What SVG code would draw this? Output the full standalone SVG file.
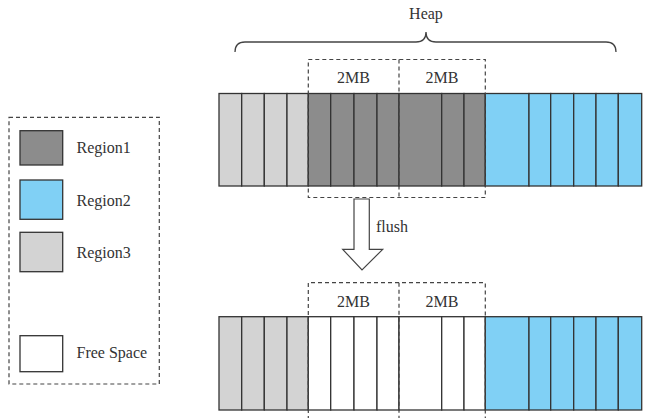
<svg xmlns="http://www.w3.org/2000/svg" width="650" height="418" viewBox="0 0 650 418">
<style>
.t{font-family:"Liberation Serif","Times New Roman",serif;font-size:16px;fill:#333}
.c{stroke:#333;stroke-width:1.3}
.r1{fill:#8c8c8c}.r2{fill:#80d0f5}.r3{fill:#d3d3d3}.fs{fill:#fff}
.d{fill:none;stroke:#444;stroke-width:1.2;stroke-dasharray:4 3}
</style>
<rect width="650" height="418" fill="#fff"/>
<g id="heap-label">
<path d="M235,52 Q235,42 245,42 L416,42 Q426,42 426,32 Q426,42 436,42 L606,42 Q616,42 616,52" fill="none" stroke="#444" stroke-width="1.3"/>
<text class="t" x="426" y="19" text-anchor="middle">Heap</text>
</g>
<g id="heap-before">
<rect class="c r3" x="219" y="93.5" width="22.7" height="92.5"/>
<rect class="c r3" x="241.7" y="93.5" width="22.6" height="92.5"/>
<rect class="c r3" x="264.3" y="93.5" width="22.7" height="92.5"/>
<rect class="c r3" x="287" y="93.5" width="21.3" height="92.5"/>
<rect class="c r1" x="308.3" y="93.5" width="22.4" height="92.5"/>
<rect class="c r1" x="330.7" y="93.5" width="23.3" height="92.5"/>
<rect class="c r1" x="354" y="93.5" width="23" height="92.5"/>
<rect class="c r1" x="377" y="93.5" width="22" height="92.5"/>
<rect class="c r1" x="399" y="93.5" width="42.7" height="92.5"/>
<rect class="c r1" x="441.7" y="93.5" width="22.3" height="92.5"/>
<rect class="c r1" x="464" y="93.5" width="21.3" height="92.5"/>
<rect class="c r2" x="485.3" y="93.5" width="43.7" height="92.5"/>
<rect class="c r2" x="529" y="93.5" width="21.7" height="92.5"/>
<rect class="c r2" x="550.7" y="93.5" width="23" height="92.5"/>
<rect class="c r2" x="573.7" y="93.5" width="22.3" height="92.5"/>
<rect class="c r2" x="596" y="93.5" width="22.3" height="92.5"/>
<rect class="c r2" x="618.3" y="93.5" width="23.4" height="92.5"/>
<path class="d" d="M308.3,59.5 H485.3 V197.5 H308.3 Z M399,59.5 V197.5"/>
<text class="t" x="353.5" y="83" text-anchor="middle">2MB</text>
<text class="t" x="442" y="83" text-anchor="middle">2MB</text>
</g>
<g id="flush-arrow">
<path d="M354,199 H369.3 V249.3 H382.7 L362,270 L342.7,249.3 H354 Z" fill="#fff" stroke="#444" stroke-width="1.2"/>
<text class="t" x="376" y="231.5">flush</text>
</g>
<g id="heap-after">
<rect class="c r3" x="219" y="316.7" width="22.7" height="93.3"/>
<rect class="c r3" x="241.7" y="316.7" width="22.6" height="93.3"/>
<rect class="c r3" x="264.3" y="316.7" width="22.7" height="93.3"/>
<rect class="c r3" x="287" y="316.7" width="21.3" height="93.3"/>
<rect class="c fs" x="308.3" y="316.7" width="22.4" height="93.3"/>
<rect class="c fs" x="330.7" y="316.7" width="23.3" height="93.3"/>
<rect class="c fs" x="354" y="316.7" width="23" height="93.3"/>
<rect class="c fs" x="377" y="316.7" width="22" height="93.3"/>
<rect class="c fs" x="399" y="316.7" width="42.7" height="93.3"/>
<rect class="c fs" x="441.7" y="316.7" width="22.3" height="93.3"/>
<rect class="c fs" x="464" y="316.7" width="21.3" height="93.3"/>
<rect class="c r2" x="485.3" y="316.7" width="43.7" height="93.3"/>
<rect class="c r2" x="529" y="316.7" width="21.7" height="93.3"/>
<rect class="c r2" x="550.7" y="316.7" width="23" height="93.3"/>
<rect class="c r2" x="573.7" y="316.7" width="22.3" height="93.3"/>
<rect class="c r2" x="596" y="316.7" width="22.3" height="93.3"/>
<rect class="c r2" x="618.3" y="316.7" width="23.4" height="93.3"/>
<path class="d" d="M308.3,420 V282.7 H485.3 V420 M399,282.7 V420"/>
<text class="t" x="353.5" y="306.5" text-anchor="middle">2MB</text>
<text class="t" x="442" y="306.5" text-anchor="middle">2MB</text>
</g>
<g id="legend">
<rect class="d" x="9" y="117.3" width="150.3" height="266.7"/>
<rect class="c r1" x="20" y="130.7" width="42.7" height="34.3"/>
<text class="t" x="76.5" y="152.5">Region1</text>
<rect class="c r2" x="20" y="180" width="42.7" height="39.3"/>
<text class="t" x="76.5" y="206">Region2</text>
<rect class="c r3" x="20" y="232.3" width="42.7" height="39.4"/>
<text class="t" x="76.5" y="257.5">Region3</text>
<rect class="c fs" x="20" y="335.7" width="42.7" height="36"/>
<text class="t" x="76.5" y="358.3">Free Space</text>
</g>
</svg>
